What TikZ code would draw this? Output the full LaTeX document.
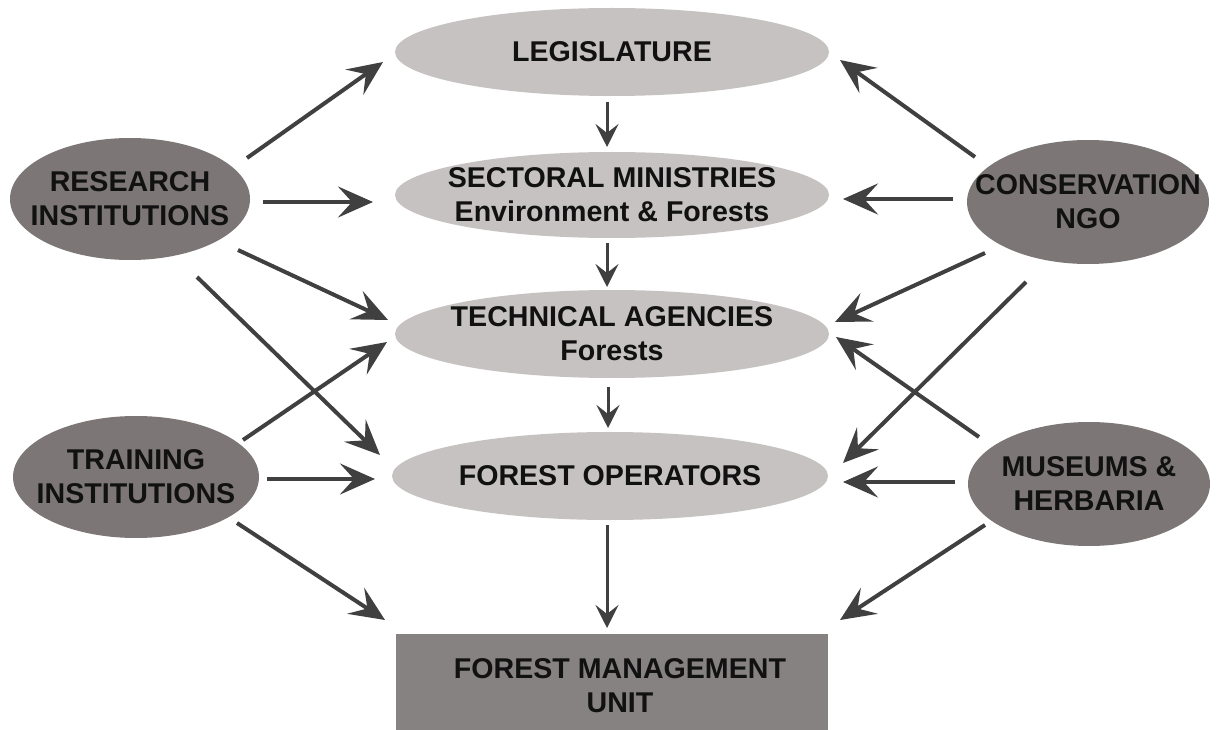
\documentclass[tikz,border=0pt]{standalone}
\usepackage{fontspec}
\setmainfont{Liberation Sans}
\usetikzlibrary{arrows.meta,shapes.geometric,calc}
\definecolor{lightgr}{HTML}{C6C2C2}
\definecolor{darkgr}{HTML}{7C7676}
\definecolor{boxgr}{HTML}{878282}
\definecolor{arrowgr}{HTML}{404040}
\definecolor{txtc}{HTML}{111111}
\begin{document}
\begin{tikzpicture}[x=1pt,y=-1pt,
  every node/.style={font=\bfseries\fontsize{28.6}{34}\selectfont, text=txtc, align=center},
  central/.style={ellipse, fill=lightgr, inner xsep=-60pt, inner ysep=-12pt, minimum width=434pt, minimum height=88pt},
  actor/.style={ellipse, fill=darkgr, inner xsep=-45pt, inner ysep=-12pt},
  bigarrow/.style={draw=arrowgr, line width=4pt, -{Stealth[length=35pt,width=31pt,inset=14pt]}},
  smallarrow/.style={draw=arrowgr, line width=3pt, -{Stealth[length=23pt,width=23pt,inset=9pt]}},
]
\useasboundingbox (0,0) rectangle (1216,730);

% central column
\node[central] (leg) at (612,52) {LEGISLATURE};
\node[central, minimum height=86pt] (sec) at (612,195) {SECTORAL MINISTRIES\\Environment \& Forests};
\node[central] (tec) at (612,334) {TECHNICAL AGENCIES\\Forests};
\node[central, minimum width=436pt] (fo) at (610,476) {FOREST OPERATORS};
\node[rectangle, fill=boxgr, minimum width=432pt, minimum height=96pt, inner sep=0pt] (fmu) at (612,682) {};
\node (fmut) at ($(fmu)+(8,4)$) {FOREST MANAGEMENT\\UNIT};

% actors
\node[actor, minimum width=240pt, minimum height=122pt] (res) at (130,199) {RESEARCH\\INSTITUTIONS};
\node[actor, minimum width=246pt, minimum height=122pt] (trn) at (136,477) {TRAINING\\INSTITUTIONS};
\node[actor, minimum width=242pt, minimum height=124pt] (ngo) at (1088,202) {CONSERVATION\\NGO};
\node[actor, minimum width=242pt, minimum height=124pt] (mus) at (1089,484) {MUSEUMS \&\\HERBARIA};

% central arrows
\draw[smallarrow] ($(leg)+(-5,50)$) -- ($(sec)+(-5,-48)$);
\draw[smallarrow] ($(sec)+(-5,48)$) -- ($(tec)+(-5,-47)$);
\draw[smallarrow] ($(tec)+(-4,53)$) -- ($(fo)+(-2,-48)$);
\draw[smallarrow] ($(fo)+(-3,49)$) -- ($(fmu)+(-5,-54)$);

% left arrows
\draw[bigarrow] ($(res)+(117,-41)$) -- ($(leg)+(-229,10)$);
\draw[bigarrow, line width=4.5pt] ($(res)+(133,3)$) -- ($(sec)+(-239,7)$);
\draw[bigarrow] ($(res)+(108,51)$) -- ($(tec)+(-224,-14)$);
\draw[bigarrow] ($(res)+(67,78)$) -- ($(fo)+(-230,-21)$);
\draw[bigarrow] ($(trn)+(107,-37)$) -- ($(tec)+(-225,8)$);
\draw[bigarrow, line width=4.5pt] ($(trn)+(131,2)$) -- ($(fo)+(-235,3)$);
\draw[bigarrow] ($(trn)+(101,46)$) -- ($(fmu)+(-227,-62)$);

% right arrows
\draw[bigarrow] ($(ngo)+(-113,-45)$) -- ($(leg)+(228,8)$);
\draw[bigarrow, line width=4.5pt] ($(ngo)+(-135,-3)$) -- ($(sec)+(231,4)$);
\draw[bigarrow] ($(ngo)+(-103,51)$) -- ($(tec)+(223,-12)$);
\draw[bigarrow] ($(ngo)+(-62,80)$) -- ($(fo)+(233,-13)$);
\draw[bigarrow] ($(mus)+(-110,-47)$) -- ($(tec)+(224,3)$);
\draw[bigarrow, line width=4.5pt] ($(mus)+(-134,-2)$) -- ($(fo)+(233,6)$);
\draw[bigarrow] ($(mus)+(-104,41)$) -- ($(fmu)+(228,-62)$);
\end{tikzpicture}
\end{document}
